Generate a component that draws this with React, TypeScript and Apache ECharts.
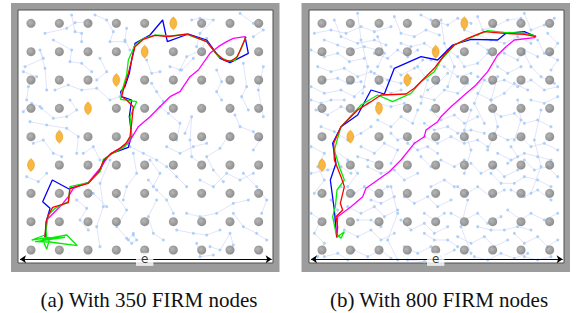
import React, { useEffect, useRef } from "react";
import * as echarts from "echarts";

// Map coordinates (both panels share the same map frame)
const obstacleCols = [93, 178, 264, 349, 434, 520, 605, 690, 776];
const obstacleRows = [70, 155, 240, 325, 410, 495, 580, 665, 750];
const landmarks = [[520, 70], [434, 155], [349, 240], [264, 325], [178, 410], [93, 495]];
const arrowSpan = [[60, 778], [815, 778]];
const arrowLabelAt = [434, 778];
const captions = ["(a) With 350 FIRM nodes", "(b) With 800 FIRM nodes"];

// FIRM roadmap edges (chains of nodes, flat x,y lists)
const chainsA = [
  [215, 45, 225, 95, 245, 100, 245, 125],
  [135, 100, 200, 85, 225, 68, 270, 65],
  [285, 45, 320, 60, 340, 95, 330, 125, 375, 125],
  [380, 85, 375, 120, 390, 150],
  [160, 120, 215, 150, 210, 185, 245, 190, 275, 215],
  [75, 200, 130, 175, 120, 150, 135, 205, 140, 270],
  [70, 215, 110, 230, 85, 260, 80, 300],
  [165, 270, 205, 255, 245, 270, 290, 265, 330, 300, 360, 290],
  [210, 300, 230, 330, 200, 350, 160, 355, 125, 325],
  [90, 365, 140, 375, 200, 385, 235, 410, 230, 460],
  [100, 430, 130, 420, 160, 460, 185, 470],
  [70, 335, 95, 310, 120, 320],
  [300, 175, 320, 215, 290, 240],
  [575, 60, 600, 55, 640, 60, 600, 100, 590, 140],
  [720, 40, 760, 70, 790, 90, 760, 110],
  [540, 210, 560, 170, 605, 150, 620, 115],
  [650, 210, 665, 245, 650, 275, 665, 300],
  [730, 190, 740, 260, 725, 290, 745, 330],
  [790, 200, 775, 270, 790, 350],
  [705, 345, 720, 380, 760, 395, 780, 420, 760, 450],
  [690, 400, 660, 445, 620, 470, 640, 510, 670, 545],
  [555, 400, 575, 350, 570, 420, 575, 470, 600, 490],
  [480, 320, 505, 340, 540, 370, 530, 420],
  [455, 250, 470, 275, 490, 305],
  [390, 440, 430, 460, 470, 480, 500, 500, 530, 530, 560, 560],
  [400, 460, 410, 520, 380, 560, 370, 600],
  [330, 480, 300, 550, 310, 620, 290, 680, 300, 740],
  [350, 590, 380, 630, 350, 680, 385, 720, 400, 700],
  [445, 540, 470, 570, 500, 600, 520, 640],
  [470, 600, 445, 650, 460, 700, 490, 720],
  [560, 640, 600, 650, 650, 640, 700, 610, 745, 600],
  [530, 690, 580, 700, 620, 705, 660, 690],
  [630, 740, 660, 750, 690, 700, 700, 735],
  [730, 520, 770, 560, 800, 600, 785, 640],
  [700, 640, 730, 680, 770, 700, 800, 720],
  [590, 730, 600, 770, 640, 765],
  [230, 600, 260, 625, 240, 660, 265, 690],
  [280, 580, 320, 620],
  [510, 200, 545, 210, 580, 175],
  [440, 180, 455, 220, 480, 215],
  [250, 460, 280, 440, 300, 480],
  [600, 540, 640, 560, 680, 520, 720, 540, 760, 520],
  [500, 440, 540, 460, 580, 440, 620, 430],
  [450, 480, 480, 520, 460, 560],
  [380, 715, 395, 730, 410, 720, 400, 705],
  [80, 530, 115, 545, 140, 520],
];

const chainsB = [
  [70, 100, 120, 90, 165, 100, 210, 80, 250, 95, 300, 80],
  [130, 60, 150, 110, 200, 130, 250, 120, 285, 135],
  [310, 50, 330, 100, 370, 110, 405, 90, 445, 105],
  [390, 45, 420, 60, 470, 75, 500, 55, 540, 70],
  [560, 50, 575, 90, 610, 80, 650, 60, 690, 55],
  [700, 40, 720, 90, 760, 75, 790, 55],
  [740, 120, 760, 160, 800, 180, 780, 210],
  [60, 150, 100, 170, 140, 160, 175, 185, 220, 175],
  [80, 200, 120, 215, 160, 205, 200, 230, 240, 215],
  [250, 160, 290, 175, 320, 150, 350, 170, 380, 150],
  [300, 200, 330, 225, 370, 205, 395, 180],
  [470, 150, 500, 170, 520, 200, 560, 190, 590, 160],
  [560, 130, 590, 150, 620, 200, 650, 220, 690, 200],
  [700, 160, 720, 200, 750, 230, 790, 250],
  [60, 260, 100, 280, 150, 270, 190, 290, 220, 260],
  [75, 330, 110, 345, 150, 320, 190, 335, 230, 310],
  [90, 380, 130, 395, 170, 420, 210, 400, 240, 380],
  [60, 440, 100, 460, 80, 500, 100, 540, 70, 580],
  [210, 440, 250, 460, 280, 430, 320, 450, 300, 490],
  [260, 360, 300, 380, 330, 350, 365, 370, 380, 330],
  [390, 290, 430, 300, 460, 270, 500, 280, 530, 250],
  [470, 220, 440, 250, 410, 270],
  [560, 280, 600, 300, 640, 280, 670, 250, 710, 270],
  [720, 300, 760, 310, 800, 290],
  [600, 330, 630, 350, 670, 340, 700, 370, 740, 360, 780, 380],
  [420, 330, 450, 360, 490, 345, 520, 370, 560, 350],
  [400, 410, 440, 430, 480, 410, 520, 430, 560, 420, 590, 440],
  [610, 400, 650, 420, 690, 410, 720, 440, 760, 430, 800, 450],
  [230, 500, 270, 520, 310, 510, 340, 540, 380, 520],
  [390, 470, 420, 500, 450, 480, 490, 500, 520, 480],
  [540, 490, 570, 520, 610, 500, 640, 530, 680, 510],
  [700, 480, 730, 510, 770, 500, 800, 530],
  [150, 560, 190, 580, 220, 560, 260, 580, 290, 560],
  [170, 620, 210, 640, 250, 620, 280, 650, 320, 630],
  [340, 590, 370, 610, 410, 590, 440, 620, 480, 600],
  [500, 560, 530, 580, 560, 560, 600, 590, 640, 570],
  [660, 570, 700, 590, 740, 570, 780, 600],
  [60, 640, 90, 660, 70, 700, 100, 730, 80, 770],
  [160, 690, 200, 710, 240, 690, 270, 720, 310, 700],
  [330, 660, 360, 690, 400, 670, 430, 700, 470, 680],
  [480, 640, 520, 660, 560, 640, 590, 670, 630, 650],
  [650, 630, 690, 660, 720, 640, 760, 660, 800, 640],
  [340, 740, 380, 760, 420, 740, 450, 770, 490, 750],
  [500, 710, 540, 730, 580, 710, 610, 740, 650, 720],
  [670, 700, 700, 730, 740, 710, 770, 740, 800, 720],
  [190, 750, 230, 770, 270, 750, 300, 775],
  [550, 770, 590, 780, 630, 760, 670, 775, 710, 760],
  [200, 40, 210, 120, 230, 200, 215, 280],
  [450, 60, 460, 130, 490, 200, 470, 260],
  [620, 230, 600, 300, 620, 380, 590, 450],
  [750, 330, 730, 420, 750, 500, 720, 580],
  [300, 560, 320, 640, 290, 720, 320, 780],
  [530, 600, 510, 680, 540, 760],
  [380, 200, 410, 240, 390, 310],
  [130, 450, 170, 480, 200, 520, 170, 560],
  [260, 250, 300, 280, 330, 270],
  [580, 240, 550, 310, 580, 370],
  [660, 440, 680, 470, 650, 490],
  [100, 120, 140, 135, 180, 150, 220, 140, 260, 150],
  [330, 130, 360, 140, 400, 130, 430, 150],
  [520, 90, 560, 105, 600, 120, 640, 130, 680, 110, 720, 130],
  [770, 100, 800, 130, 780, 160],
  [100, 240, 140, 235, 170, 250, 210, 245],
  [250, 220, 290, 240, 330, 250, 360, 235],
  [420, 180, 460, 200, 500, 230, 540, 220],
  [640, 160, 680, 180, 700, 150, 740, 170],
  [60, 300, 90, 310, 120, 300, 160, 300],
  [260, 310, 300, 320, 340, 310],
  [560, 230, 600, 250, 640, 240, 680, 260, 720, 240, 760, 270, 800, 260],
  [400, 370, 430, 390, 470, 380, 500, 400, 540, 390, 580, 400],
  [620, 460, 660, 480, 700, 460, 740, 470, 780, 480],
  [60, 520, 110, 510, 150, 500, 180, 520],
  [200, 470, 230, 480, 260, 490],
  [350, 430, 380, 450, 410, 440, 440, 460],
  [600, 520, 630, 550, 670, 550, 700, 530, 740, 540, 780, 560],
  [240, 600, 270, 610, 310, 590],
  [420, 560, 460, 540, 490, 560],
  [120, 600, 140, 630, 130, 660],
  [200, 660, 240, 660, 270, 680],
  [400, 640, 430, 660, 460, 640],
  [560, 680, 600, 690, 640, 690, 680, 680, 720, 690],
  [100, 770, 140, 760, 170, 780],
  [400, 700, 430, 720, 470, 720, 500, 740],
  [700, 770, 740, 780, 780, 770],
  [350, 780, 400, 785, 440, 780],
  [260, 110, 280, 160, 260, 200],
  [540, 330, 520, 390, 540, 450, 520, 520],
  [680, 300, 690, 360, 670, 420],
  [300, 400, 320, 420, 350, 410, 370, 430],
];

// Paths (panel a)
const redA = [[135,712],[138,665],[148,640],[158,622],[205,608],[210,565],[265,550],[298,512],[312,480],[335,460],[360,445],[378,430],[390,410],[395,370],[400,320],[380,300],[365,290],[370,270],[385,220],[395,180],[405,140],[430,118],[465,106],[505,110],[562,102],[620,125],[648,160],[672,180],[692,184],[712,170],[738,110]];
const greenA = [[135,705],[95,720],[150,712],[140,748],[128,718],[200,705],[232,737],[150,726],[105,725],[195,712],[140,716],[138,690],[145,645],[165,625],[205,605],[210,560],[265,548],[300,515],[310,478],[330,465],[375,440],[395,405],[390,350],[410,305],[362,298],[368,265],[380,225],[385,180],[405,135],[432,115],[465,105],[510,108],[560,103],[620,125],[655,170],[685,183],[705,180],[722,150],[738,110]];
const blueA = [[135,712],[140,660],[150,625],[128,605],[157,540],[207,567],[265,548],[300,512],[315,478],[335,460],[385,442],[395,405],[388,350],[395,300],[365,290],[362,275],[375,260],[388,220],[395,180],[405,130],[450,105],[488,60],[502,125],[565,102],[620,120],[660,175],[690,188],[745,160],[735,110]];
const magentaA = [[140,660],[185,615],[205,590],[220,565],[265,547],[300,505],[330,462],[385,430],[415,380],[450,350],[470,330],[510,290],[540,275],[570,230],[595,210],[630,160],[655,140],[680,125],[700,115],[735,110]];

// Paths (panel b)
const redB = [[137,712],[140,680],[135,650],[155,630],[148,610],[160,560],[150,530],[130,480],[128,430],[150,380],[200,330],[240,305],[270,285],[345,282],[370,265],[400,235],[430,205],[460,165],[490,135],[530,115],[580,95],[640,100],[700,103],[735,110]];
const greenB = [[137,712],[160,695],[150,715],[135,700],[125,650],[133,620],[138,570],[160,540],[145,500],[130,450],[150,380],[210,315],[260,285],[305,305],[360,280],[390,245],[430,215],[450,180],[490,135],[540,112],[590,92],[640,97],[700,100],[735,108]];
const blueB = [[137,712],[130,630],[118,540],[135,490],[125,430],[150,380],[200,345],[240,270],[280,282],[310,205],[390,170],[440,180],[485,135],[540,118],[620,120],[645,100],[700,95],[735,110]];
const magentaB = [[137,705],[140,650],[180,620],[215,590],[225,565],[260,540],[295,515],[330,480],[370,430],[400,410],[405,390],[440,365],[450,350],[480,320],[520,285],[555,255],[590,215],[620,165],[645,140],[670,120],[730,113],[735,108]];

const pathColors = { blue: "#0000ff", magenta: "#ff00ff", green: "#00ee00", red: "#ff0000" };

function toPairs(flat: number[]) {
  const out: number[][] = [];
  for (let i = 0; i + 1 < flat.length; i += 2) out.push([flat[i], flat[i + 1]]);
  return out;
}

const isLandmark = (x: number, y: number) => landmarks.some((l) => l[0] === x && l[1] === y);
const obstacles: number[][] = [];
obstacleRows.forEach((y) => obstacleCols.forEach((x) => { if (!isLandmark(x, y)) obstacles.push([x, y]); }));

const lensPath = "path://M5,0 C7.5,4 7.5,10 5,14 C2.5,10 2.5,4 5,0 Z";

function panelSeries(i: number, chains: number[][], paths: { [k: string]: number[][] }) {
  const ax = { xAxisIndex: i, yAxisIndex: i };
  const nodes: number[][] = [];
  chains.forEach((c) => toPairs(c).forEach((p) => nodes.push(p)));
  const series: any[] = [
    {
      type: "lines", ...ax, coordinateSystem: "cartesian2d", polyline: true, silent: true, z: 1,
      lineStyle: { color: "#cdd2f6", width: 0.6, opacity: 1 },
      data: chains.map((c) => ({ coords: toPairs(c) })),
    },
    {
      type: "scatter", ...ax, silent: true, z: 2, symbolSize: 3,
      itemStyle: { color: "#9fc7f7" }, data: nodes,
    },
    {
      type: "scatter", ...ax, silent: true, z: 3, symbolSize: 9,
      itemStyle: {
        color: { type: "radial", x: 0.4, y: 0.4, r: 0.65, colorStops: [{ offset: 0, color: "#a4a4a4" }, { offset: 1, color: "#6e6e6e" }] },
      },
      data: obstacles,
    },
    {
      type: "scatter", ...ax, silent: true, z: 3, symbol: lensPath, symbolSize: [7, 13],
      itemStyle: { color: "#f5a511", borderColor: "#e08a00", borderWidth: 0.5 }, data: landmarks,
    },
  ];
  ["blue", "magenta", "green", "red"].forEach((k, j) => {
    series.push({
      type: "line", ...ax, silent: true, z: 5 + j, showSymbol: false, symbol: "none",
      lineStyle: { color: (pathColors as any)[k], width: 1.3 }, data: paths[k],
    });
  });
  series.push({
    type: "lines", ...ax, coordinateSystem: "cartesian2d", silent: true, z: 10,
    symbol: ["arrow", "arrow"], symbolSize: 6,
    lineStyle: { color: "#000", width: 1.2, opacity: 1 },
    data: [{ coords: arrowSpan }],
  });
  series.push({
    type: "scatter", ...ax, silent: true, z: 11, symbolSize: 1,
    itemStyle: { color: "rgba(0,0,0,0)" },
    label: { show: true, position: "inside", formatter: "e", color: "#000", fontSize: 12, fontFamily: "DejaVu Sans", backgroundColor: "#fff", padding: [0, 5, 1, 5], lineHeight: 12 },
    data: [arrowLabelAt],
  });
  return series;
}

export default function App() {
  const ref = useRef<HTMLDivElement>(null);
  useEffect(() => {
    if (!ref.current) return;
    const chart = echarts.init(ref.current, undefined, { renderer: "svg" });
    const gridLefts = [18, 309];
    const frameLefts = [11, 301.5];
    chart.setOption({
      animation: false,
      backgroundColor: "#fff",
      title: captions.map((t, i) => ({
        text: t, left: [144, 434][i], top: 284, textAlign: "center",
        textStyle: { fontFamily: "Liberation Serif", fontSize: 21, fontWeight: "normal", color: "#111" },
      })),
      grid: gridLefts.map((l) => ({
        left: l, top: 10, width: 255, height: 253, show: true,
        backgroundColor: "#fff", borderColor: "#505050", borderWidth: 1, containLabel: false, z: 0,
      })),
      xAxis: gridLefts.map((_, i) => ({ type: "value", gridIndex: i, min: 54, max: 819, show: false })),
      yAxis: gridLefts.map((_, i) => ({ type: "value", gridIndex: i, min: 30, max: 789, inverse: true, show: false })),
      graphic: frameLefts.map((l) => ({ type: "rect", z: -100, silent: true, shape: { x: l, y: 3, width: 268.5, height: 269 }, style: { fill: "#9c9c9c" } })),
      series: [
        ...panelSeries(0, chainsA, { red: redA, green: greenA, blue: blueA, magenta: magentaA }),
        ...panelSeries(1, chainsB, { red: redB, green: greenB, blue: blueB, magenta: magentaB }),
      ],
    });
    return () => chart.dispose();
  }, []);
  return <div ref={ref} style={{ position: "fixed", left: 0, top: 0, width: 577, height: 313 }} />;
}
